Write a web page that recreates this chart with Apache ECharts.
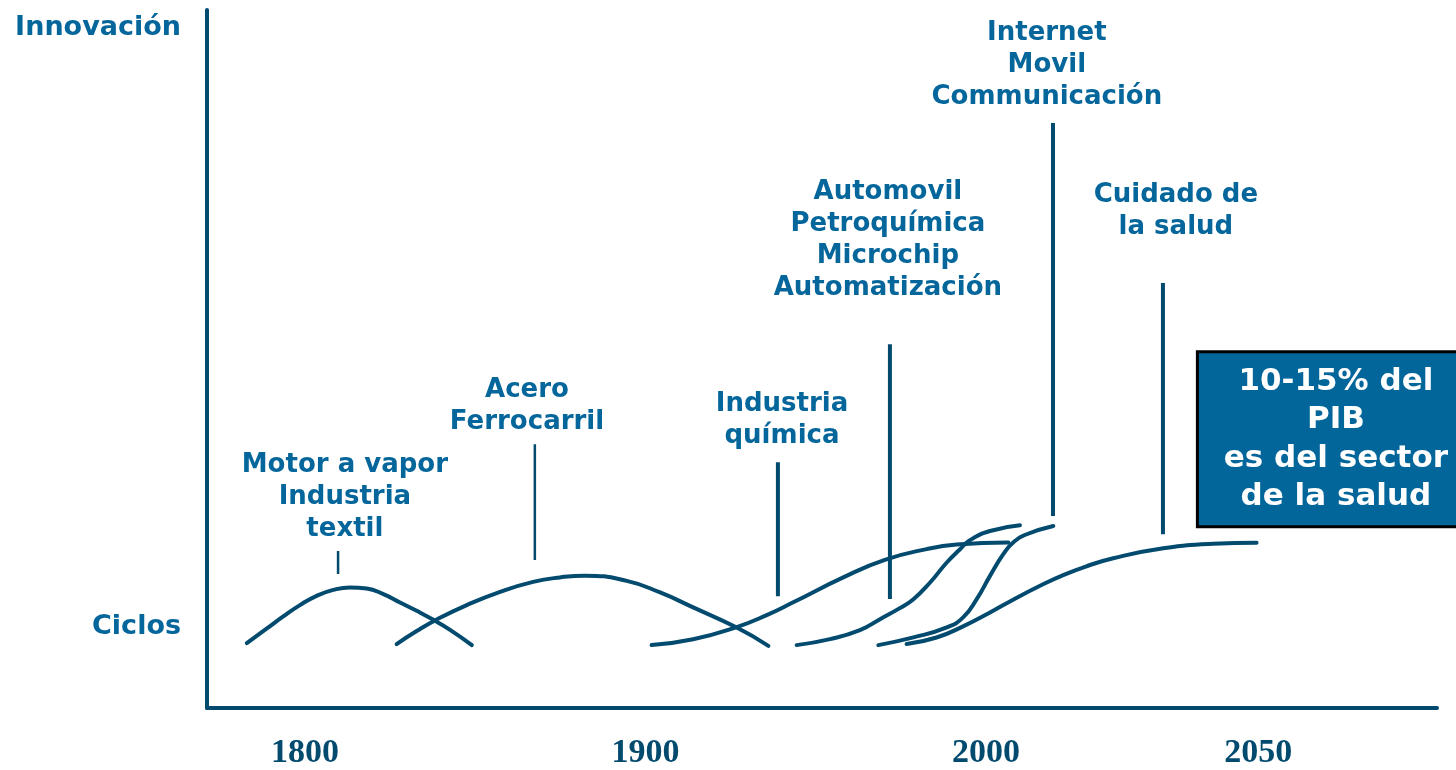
<!DOCTYPE html>
<html lang="es">
<head>
    <meta charset="UTF-8">
    <title>Ciclos de innovación</title>
    <script src="https://cdn.jsdelivr.net/npm/echarts@6/dist/echarts.min.js"></script>
    <style>
        body {
            margin: 0;
            padding: 0;
            background-color: #ffffff;
        }
        #chart {
            width: 1456px;
            height: 770px;
        }
    </style>
</head>
<body>
    <div id="chart"></div>

    <script>
        // ejes (el eje x es esquemático: 2050 queda más lejos de lo que tocaría)
        const xTickValues = [1800, 1900, 2000, 2080];
        const xTickLabels = ['1800', '1900', '2000', '2050'];
        const yTickValues = [11.6, 97.4];
        const yTickLabels = ['Ciclos', 'Innovación'];

        // ondas de innovación
        const vaporX = [1782.9, 1788.8, 1793.6, 1798.5, 1803.4, 1808.3, 1813.2, 1818.1, 1823.0, 1827.9, 1832.8, 1837.7, 1842.6, 1849.0];
        const vaporY = [9.30, 11.40, 13.12, 14.74, 16.07, 16.92, 17.27, 17.12, 16.31, 15.12, 13.92, 12.63, 11.20, 9.01];

        const aceroX = [1826.9, 1832.8, 1838.7, 1847.5, 1857.3, 1867.0, 1874.9, 1882.2, 1894.5, 1904.3, 1914.0, 1926.8, 1936.1];
        const aceroY = [9.16, 11.02, 12.68, 14.74, 16.64, 18.07, 18.71, 18.96, 18.21, 16.55, 14.41, 11.52, 8.91];

        const quimicaX = [1901.8, 1914.0, 1926.8, 1935.6, 1943.4, 1958.1, 1970.3, 1982.6, 1991.4, 2006.6];
        const quimicaY = [9.01, 9.84, 11.59, 13.30, 15.14, 18.71, 21.22, 22.76, 23.41, 23.71];

        const automovilX = [1944.4, 1954.2, 1963.0, 1968.9, 1974.7, 1978.7, 1983.6, 1988.5, 1992.4, 1995.3, 2001.2, 2010.0];
        const automovilY = [9.01, 9.87, 11.16, 12.73, 14.31, 15.59, 17.98, 20.84, 22.75, 24.03, 25.36, 26.18];

        const internetX = [1968.4, 1978.7, 1988.5, 1993.3, 1997.3, 2001.2, 2005.1, 2008.0, 2012.0, 2019.8];
        const internetY = [9.01, 10.11, 11.55, 12.98, 15.59, 18.93, 22.03, 23.71, 24.89, 26.08];

        const saludX = [1976.7, 1985.5, 1993.3, 2001.2, 2008.0, 2015.9, 2022.7, 2029.6, 2037.4, 2052.1, 2066.8, 2079.5];
        const saludY = [9.16, 10.10, 11.70, 13.69, 15.52, 17.51, 19.04, 20.31, 21.46, 22.89, 23.53, 23.66];

        // líneas verticales que unen cada texto con su onda
        const leaderX = [1809.7, 1867.5, 1938.9, 1971.8, 2019.7, 2052.0];
        const leaderBottom = [19.2, 21.2, 16.0, 15.6, 27.5, 24.9];
        const leaderTop = [22.5, 37.8, 35.2, 52.1, 83.8, 60.9];

        // textos de cada onda
        const labelTexts = [
            'Motor a vapor\nIndustria\ntextil',
            'Acero\nFerrocarril',
            'Industria\nquímica',
            'Automovil\nPetroquímica\nMicrochip\nAutomatización',
            'Internet\nMovil\nCommunicación',
            'Cuidado de\nla salud'
        ];
        const labelX = [1811.7, 1865.2, 1940.1, 1971.2, 2017.9, 2055.8];
        const labelY = [30.2, 43.3, 41.2, 67.0, 92.1, 71.2];

        const boxText = '10-15% del\nPIB\nes del sector\nde la salud';
        const boxX = 2102.8;
        const boxY = 38.5;

        const lineColor = '#034a6f';
        const textColor = '#04669b';
        const leaderWidths = [2.5, 2.5, 4, 4, 4, 4];

        function zip(xs, ys) {
            return xs.map((x, i) => [x, ys[i]]);
        }

        function curve(xs, ys) {
            return {
                type: 'line',
                data: zip(xs, ys),
                smooth: 0.5,
                symbol: 'none',
                silent: true,
                lineStyle: { color: lineColor, width: 4, cap: 'round' }
            };
        }

        function pick(values, labels, v) {
            let best = 0;
            values.forEach((t, i) => {
                if (Math.abs(t - v) < Math.abs(values[best] - v)) best = i;
            });
            return labels[best];
        }

        const chart = echarts.init(document.getElementById('chart'), null, { renderer: 'canvas' });

        const series = [
            curve(vaporX, vaporY),
            curve(aceroX, aceroY),
            curve(quimicaX, quimicaY),
            curve(automovilX, automovilY),
            curve(internetX, internetY),
            curve(saludX, saludY)
        ];

        leaderX.forEach((x, i) => {
            series.push({
                type: 'line',
                data: [[x, leaderBottom[i]], [x, leaderTop[i]]],
                symbol: 'none',
                silent: true,
                lineStyle: { color: lineColor, width: leaderWidths[i] }
            });
        });

        series.push({
            type: 'scatter',
            data: zip(labelX, labelY),
            symbolSize: 0,
            silent: true,
            itemStyle: { opacity: 1 },
            label: {
                show: true,
                position: 'inside',
                formatter: (p) => labelTexts[p.dataIndex],
                color: textColor,
                opacity: 1,
                fontFamily: 'DejaVu Sans',
                fontWeight: 'bold',
                fontSize: 26,
                lineHeight: 32,
                align: 'center',
                verticalAlign: 'middle'
            }
        });

        series.push({
            type: 'scatter',
            data: [[boxX, boxY]],
            symbolSize: 0,
            silent: true,
            z: 10,
            itemStyle: { opacity: 1 },
            label: {
                show: true,
                position: 'inside',
                formatter: boxText,
                color: '#ffffff',
                opacity: 1,
                fontFamily: 'DejaVu Sans',
                fontWeight: 'bold',
                fontSize: 31,
                lineHeight: 38.5,
                width: 250,
                align: 'center',
                verticalAlign: 'middle',
                backgroundColor: '#03669b',
                borderColor: '#000000',
                borderWidth: 3,
                padding: [9, 12]
            }
        });

        const option = {
            animation: false,
            grid: { left: 207, right: 19, top: 10, bottom: 61 },
            xAxis: {
                type: 'value',
                min: 1771.2,
                max: 2132.5,
                splitLine: { show: false },
                axisTick: { show: false },
                axisLine: { lineStyle: { color: lineColor, width: 4 } },
                axisLabel: {
                    customValues: xTickValues,
                    formatter: (v) => pick(xTickValues, xTickLabels, v),
                    margin: 28,
                    color: lineColor,
                    fontFamily: 'Liberation Serif',
                    fontWeight: 'bold',
                    fontSize: 34
                }
            },
            yAxis: {
                type: 'value',
                min: 0,
                max: 100,
                splitLine: { show: false },
                axisTick: { show: false },
                axisLine: { show: true, lineStyle: { color: lineColor, width: 4 } },
                axisLabel: {
                    customValues: yTickValues,
                    formatter: (v) => pick(yTickValues, yTickLabels, v),
                    margin: 26,
                    color: textColor,
                    fontFamily: 'DejaVu Sans',
                    fontWeight: 'bold',
                    fontSize: 27
                }
            },
            series: series
        };
        chart.setOption(option);

        window.addEventListener('resize', () => {
            chart.resize();
        });
    </script>
</body>
</html>
